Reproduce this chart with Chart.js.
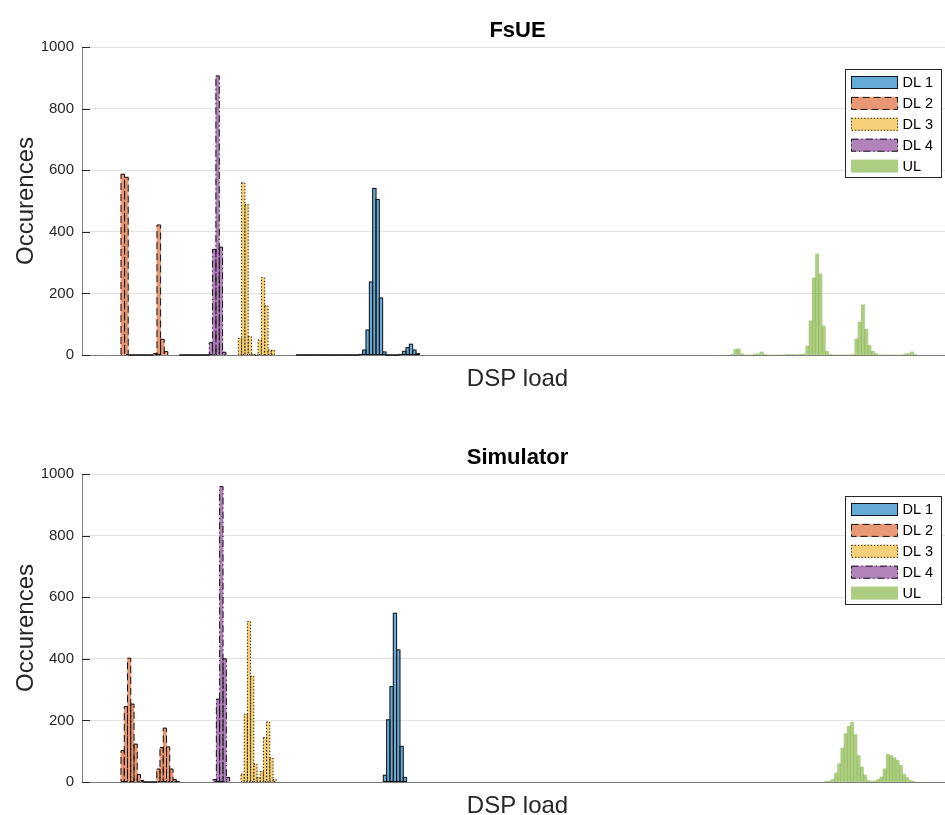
<!DOCTYPE html>
<html>
<head>
<meta charset="utf-8">
<script src="https://cdn.jsdelivr.net/npm/chart.js@4.4.1/dist/chart.umd.min.js"></script>
<style>
  html, body { margin: 0; padding: 0; background: #fff; overflow: hidden; width: 945px; height: 815px; }
  .panel { position: absolute; left: 0; width: 953px; height: 388px; }
  #panelTop { top: 0; }
  #panelBottom { top: 427px; }
</style>
</head>
<body>
<div class="panel" id="panelTop"><canvas id="fsueChart" width="953" height="388"></canvas></div>
<div class="panel" id="panelBottom"><canvas id="simChart" width="953" height="388"></canvas></div>
<script>
// DSP load axis range (no tick labels are shown on it)
const loadMin = 0;
const loadMax = 100;
// Occurrence axis ticks
const countTicks = [0, 200, 400, 600, 800, 1000];
const seriesNames = ['DL 1', 'DL 2', 'DL 3', 'DL 4', 'UL'];

// FsUE histograms: first bin edge, bin width and the count in each bin
const fsueDl1Start = 24.569, fsueDl1Width = 0.3827;
const fsueDl1Counts = [0, 0, 0, 0, 0, 0, 0, 0, 0, 0, 0, 0, 0, 0, 0, 0, 0, 0, 0,
  2, 16, 81, 237, 541, 505, 185, 10, 0, 0, 0, 0, 2, 12, 24, 35, 16, 5];
const fsueDl2Start = 4.478, fsueDl2Width = 0.4133;
const fsueDl2Counts = [587, 577, 0, 0, 0, 0, 0, 0, 0, 5, 422, 51, 11];
const fsueDl3Start = 17.945, fsueDl3Width = 0.3789;
const fsueDl3Counts = [54, 559, 489, 60, 2, 0, 49, 251, 160, 16, 15];
const fsueDl4Start = 11.171, fsueDl4Width = 0.3823;
const fsueDl4Counts = [0, 0, 0, 0, 0, 0, 0, 0, 0, 40, 343, 906, 350, 9];
const fsueUlStart = 74.455, fsueUlWidth = 0.3754;
const fsueUlCounts = [2, 18, 20, 4, 0, 0, 0, 3, 4, 10, 1, 0, 0, 0, 0, 0, 0,
  1, 2, 1, 0, 1, 3, 29, 111, 250, 328, 263, 94, 12, 1, 0, 0, 0, 0, 0, 0,
  2, 52, 107, 163, 84, 31, 12, 5, 0, 0, 0, 0, 0, 0, 0, 0, 4, 5, 10, 2];

// Simulator histograms
const simDl1Start = 34.592, simDl1Width = 0.3823;
const simDl1Counts = [22, 202, 310, 548, 429, 116, 15];
const simDl2Start = 4.478, simDl2Width = 0.3731;
const simDl2Counts = [102, 245, 402, 253, 123, 24, 5, 0, 0, 0, 0, 42, 112, 175, 114, 42, 8, 2];
const simDl3Start = 18.255, simDl3Width = 0.3674;
const simDl3Counts = [26, 220, 521, 343, 58, 15, 34, 145, 195, 78, 8];
const simDl4Start = 15.040, simDl4Width = 0.3823;
const simDl4Counts = [8, 269, 959, 400, 15];
const simUlStart = 85.247, simUlWidth = 0.3731;
const simUlCounts = [1, 3, 8, 29, 59, 110, 157, 181, 194, 154, 86, 49, 22, 5,
  1, 3, 8, 16, 43, 90, 86, 79, 70, 54, 25, 14, 5, 1];

// ---- styling ----
const FONT = '"Liberation Sans", Arial, Helvetica, sans-serif';
const faceColors = [
  'rgba(0,114,189,0.6)',
  'rgba(217,83,25,0.6)',
  'rgba(237,177,32,0.6)',
  'rgba(126,47,142,0.6)',
  'rgba(119,172,48,0.6)'
];
// edge line style per series: solid, dashed, dotted, dash-dot, none
const edgeDashes = [[], [7, 4], [1.2, 2], [7, 3, 1.2, 3], null];
const edgeColor = '#141414';

// bin centres from the first edge and the bin width
function binPoints(start, width, counts) {
  return counts.map((c, i) => ({ x: start + (i + 0.5) * width, y: c }));
}

// outlines of every bin, drawn with the series' line style
const binEdges = {
  id: 'binEdges',
  afterDatasetDraw(chart, args) {
    const dash = edgeDashes[args.index];
    if (!dash) return;
    const ctx = chart.ctx;
    ctx.save();
    ctx.strokeStyle = edgeColor;
    ctx.lineWidth = 1;
    ctx.setLineDash(dash);
    for (const bar of args.meta.data) {
      const p = bar.getProps(['x', 'y', 'base', 'width'], true);
      ctx.strokeRect(p.x - p.width / 2, Math.min(p.y, p.base), p.width, Math.abs(p.base - p.y));
    }
    ctx.restore();
  }
};

// inward tick marks, title, axis labels and the boxed legend
const panelDecor = {
  id: 'panelDecor',
  afterDraw(chart, args, opts) {
    const ctx = chart.ctx;
    const a = chart.chartArea;
    const yScale = chart.scales.y;
    ctx.save();

    // tick marks pointing into the axes
    ctx.strokeStyle = '#262626';
    ctx.lineWidth = 1;
    ctx.beginPath();
    for (const t of yScale.ticks) {
      const py = Math.round(yScale.getPixelForValue(t.value)) + 0.5;
      ctx.moveTo(a.left, py);
      ctx.lineTo(a.left + 8, py);
    }
    ctx.stroke();

    // title
    ctx.fillStyle = '#000';
    ctx.font = 'bold 22px ' + FONT;
    ctx.textAlign = 'center';
    ctx.textBaseline = 'alphabetic';
    ctx.fillText(opts.title, (a.left + a.right) / 2, a.top - 10);

    // x label
    ctx.fillStyle = '#262626';
    ctx.font = '24px ' + FONT;
    ctx.fillText(opts.xLabel, (a.left + a.right) / 2, a.bottom + 31);

    // y label
    ctx.save();
    ctx.translate(32.5, (a.top + a.bottom) / 2);
    ctx.rotate(-Math.PI / 2);
    ctx.fillText(opts.yLabel, 0, 0);
    ctx.restore();

    // legend
    const boxW = 97, boxH = 109;
    const left = a.right - 11 - boxW;
    const top = a.top + 22;
    ctx.fillStyle = '#fff';
    ctx.fillRect(left, top, boxW, boxH);
    ctx.strokeStyle = '#262626';
    ctx.setLineDash([]);
    ctx.strokeRect(left + 0.5, top + 0.5, boxW - 1, boxH - 1);
    ctx.font = '14.5px ' + FONT;
    ctx.textAlign = 'left';
    ctx.textBaseline = 'middle';
    chart.data.datasets.forEach((ds, i) => {
      const cy = top + 13.5 + i * 20.9;
      const sx = left + 6, sy = cy - 6.5;
      ctx.fillStyle = ds.backgroundColor;
      ctx.fillRect(sx, sy, 47, 13);
      if (edgeDashes[i]) {
        ctx.strokeStyle = edgeColor;
        ctx.setLineDash(edgeDashes[i]);
        ctx.strokeRect(sx + 0.5, sy + 0.5, 46, 12);
        ctx.setLineDash([]);
      }
      ctx.fillStyle = '#000';
      ctx.fillText(ds.label, left + 57.5, cy + 0.5);
    });
    ctx.restore();
  }
};

function buildChart(canvasId, title, series) {
  const datasets = series.map((s, i) => ({
    label: seriesNames[i],
    data: binPoints(s.start, s.width, s.counts),
    backgroundColor: faceColors[i],
    borderWidth: 0,
    grouped: false,
    barPercentage: 1,
    categoryPercentage: 1,
    xAxisID: 'x' + i
  }));

  const scales = {
    y: {
      type: 'linear',
      position: 'left',
      min: 0,
      max: 1000,
      afterBuildTicks: s => { s.ticks = countTicks.map(v => ({ value: v })); },
      afterFit: s => { s.width = 82; },
      ticks: {
        padding: 8,
        color: '#262626',
        font: { family: FONT, size: 15 },
        callback: v => String(v)
      },
      grid: { color: '#e2e2e2', lineWidth: 1, drawTicks: false },
      border: { display: true, color: '#808080', width: 1 }
    }
  };
  series.forEach((s, i) => {
    scales['x' + i] = {
      type: 'linear',
      position: 'bottom',
      min: loadMin,
      max: loadMax,
      offset: false,
      display: i === 0,
      afterFit: sc => { sc.height = 0; },
      ticks: { display: false, maxTicksLimit: 2 },
      grid: { display: false, drawTicks: false },
      border: { display: true, color: '#7a7a7a', width: 1 }
    };
  });

  return new Chart(document.getElementById(canvasId), {
    type: 'bar',
    data: { datasets },
    options: {
      responsive: false,
      animation: false,
      events: [],
      layout: { padding: { top: 47, bottom: 33, left: 0, right: 0 } },
      scales,
      plugins: {
        legend: { display: false },
        tooltip: { enabled: false },
        panelDecor: { title, xLabel: 'DSP load', yLabel: 'Occurences' }
      }
    },
    plugins: [binEdges, panelDecor]
  });
}

buildChart('fsueChart', 'FsUE', [
  { start: fsueDl1Start, width: fsueDl1Width, counts: fsueDl1Counts },
  { start: fsueDl2Start, width: fsueDl2Width, counts: fsueDl2Counts },
  { start: fsueDl3Start, width: fsueDl3Width, counts: fsueDl3Counts },
  { start: fsueDl4Start, width: fsueDl4Width, counts: fsueDl4Counts },
  { start: fsueUlStart, width: fsueUlWidth, counts: fsueUlCounts }
]);

buildChart('simChart', 'Simulator', [
  { start: simDl1Start, width: simDl1Width, counts: simDl1Counts },
  { start: simDl2Start, width: simDl2Width, counts: simDl2Counts },
  { start: simDl3Start, width: simDl3Width, counts: simDl3Counts },
  { start: simDl4Start, width: simDl4Width, counts: simDl4Counts },
  { start: simUlStart, width: simUlWidth, counts: simUlCounts }
]);
</script>
</body>
</html>
